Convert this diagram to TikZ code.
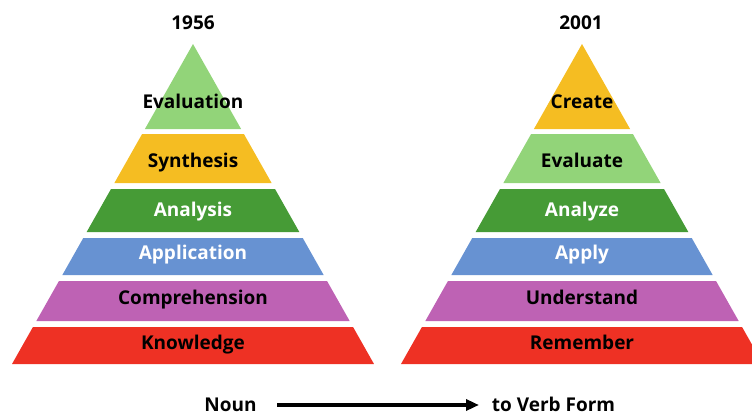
\documentclass[tikz,border=0pt]{standalone}
\usepackage{fontspec}
\setmainfont{Open Sans}
\usetikzlibrary{arrows.meta}
\definecolor{cLgreen}{RGB}{146,212,121}
\definecolor{cYellow}{RGB}{245,189,34}
\definecolor{cGreen}{RGB}{70,155,54}
\definecolor{cBlue}{RGB}{103,146,210}
\definecolor{cPurple}{RGB}{190,98,180}
\definecolor{cRed}{RGB}{238,49,36}
\newcommand{\tierbox}[4]{% cx, top, bottom, colour
  \fill[#4] ({#1-(#2-44)*0.5656},#2) -- ({#1+(#2-44)*0.5656},#2) --
            ({#1+(#3-44)*0.5656},#3) -- ({#1-(#3-44)*0.5656},#3) -- cycle;}
\begin{document}
\begin{tikzpicture}[x=1pt,y=-1pt,
  lbl/.style={anchor=base,inner sep=0pt,font=\fontsize{19}{21}\selectfont\bfseries},
  dark/.style={lbl,text=black},
  light/.style={lbl,text=white},
  conn/.style={line width=3.5pt,-{Triangle[length=13pt,width=11pt]}}]
\useasboundingbox (0,0) rectangle (752,415);
\clip (0,0) rectangle (752,415);
% left pyramid
\fill[cLgreen] (193,44) -- ({193+85*0.5656},129) -- ({193-85*0.5656},129) -- cycle;
\tierbox{193}{134}{183}{cYellow}
\tierbox{193}{189}{232}{cGreen}
\tierbox{193}{238}{275}{cBlue}
\tierbox{193}{281}{321}{cPurple}
\tierbox{193}{327}{364}{cRed}
% right pyramid
\fill[cYellow] (582,44) -- ({582+85*0.5656},129) -- ({582-85*0.5656},129) -- cycle;
\tierbox{582}{134}{183}{cLgreen}
\tierbox{582}{189}{232}{cGreen}
\tierbox{582}{238}{275}{cBlue}
\tierbox{582}{281}{321}{cPurple}
\tierbox{582}{327}{364}{cRed}
% titles
\node[dark] (y1) at (193,29) {1956};
\node[dark] (y2) at (581,29) {2001};
% left labels
\node[dark]  (l1) at (193,108) {Evaluation};
\node[dark]  (l2) at (193,167) {Synthesis};
\node[light] (l3) at (193,216) {Analysis};
\node[light] (l4) at (193,259) {Application};
\node[dark]  (l5) at (193,304) {Comprehension};
\node[dark]  (l6) at (193,349) {Knowledge};
% right labels
\node[dark]  (r1) at (582,108) {Create};
\node[dark]  (r2) at (582,167) {Evaluate};
\node[light] (r3) at (582,216) {Analyze};
\node[light] (r4) at (582,259) {Apply};
\node[dark]  (r5) at (582,304) {Understand};
\node[dark]  (r6) at (582,349) {Remember};
% bottom
\node[dark] (noun) at (230.5,411) {Noun};
\node[dark] (verb) at (553.5,411) {to Verb Form};
\coordinate (a0) at (277,405);
\coordinate (a1) at (479,405);
\draw[conn] (a0) -- (a1);
\end{tikzpicture}
\end{document}
